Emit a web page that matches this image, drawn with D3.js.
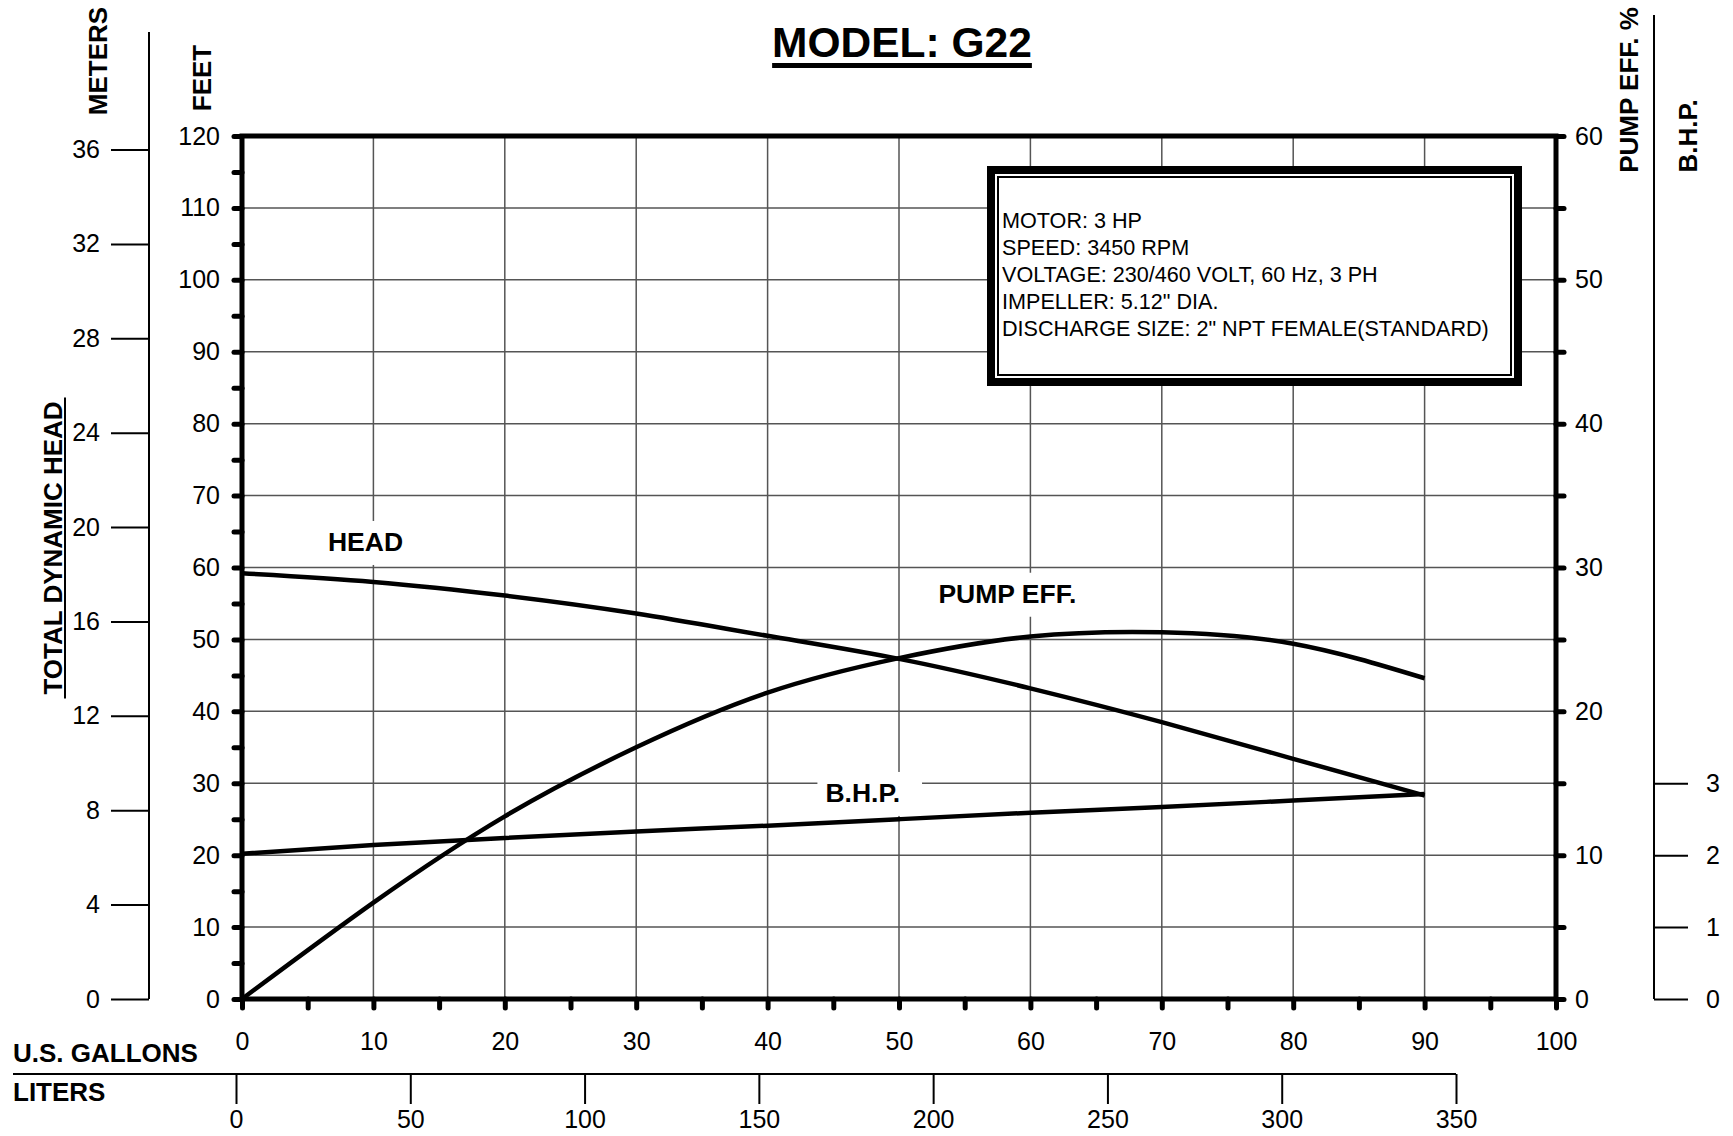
<!DOCTYPE html>
<html>
<head>
<meta charset="utf-8">
<script src="https://cdn.jsdelivr.net/npm/d3@7"></script>
<style>
  body { margin: 0; background: #fff; }
  text { font-family: "Liberation Sans", Arial, sans-serif; fill: #000; }
</style>
</head>
<body>
<script>
// curve readings, every 10 US gallons
var gallons  = [0, 10, 20, 30, 40, 50, 60, 70, 80, 90];
var headFeet = [59.2, 58.0, 56.1, 53.6, 50.5, 47.3, 43.2, 38.5, 33.4, 28.3];
var pumpEff  = [0, 6.7, 12.7, 17.5, 21.3, 23.7, 25.2, 25.5, 24.7, 22.3];
var bhp      = [2.02, 2.14, 2.24, 2.33, 2.41, 2.50, 2.59, 2.67, 2.76, 2.85];

// axis ticks
var feetTicks   = d3.range(0, 121, 5);
var meterTicks  = d3.range(0, 37, 4);
var effTicks    = d3.range(0, 61, 5);
var bhpTicks    = [0, 1, 2, 3];
var galTicks    = d3.range(0, 101, 5);
var literTicks  = d3.range(0, 351, 50);

var specs = [
  "MOTOR: 3 HP",
  "SPEED: 3450 RPM",
  "VOLTAGE: 230/460 VOLT, 60 Hz, 3 PH",
  "IMPELLER: 5.12\" DIA.",
  "DISCHARGE SIZE: 2\" NPT FEMALE(STANDARD)"
];

var width = 1733, height = 1136;
var pLeft = 242, pRight = 1556, pTop = 136, pBottom = 999;

var svg = d3.select("body").append("svg").attr("width", width).attr("height", height);

var x  = d3.scaleLinear().domain([0, 100]).range([pLeft, pRight]);
var xL = d3.scaleLinear().domain([0, 350]).range([236, 1456]);
var y  = d3.scaleLinear().domain([0, 120]).range([pBottom, pTop]);
var yM = d3.scaleLinear().domain([0, 120 / 3.28084]).range([pBottom, pTop]);
var yE = d3.scaleLinear().domain([0, 60]).range([pBottom, pTop]);
var yB = d3.scaleLinear().domain([0, 12]).range([pBottom, pTop]);

// grid
var grid = svg.append("g").attr("stroke", "#555").attr("stroke-width", 1.5);
grid.selectAll(".v").data(d3.range(10, 100, 10)).enter().append("line")
  .attr("x1", d => x(d)).attr("x2", d => x(d)).attr("y1", pTop).attr("y2", pBottom);
grid.selectAll(".h").data(d3.range(10, 120, 10)).enter().append("line")
  .attr("x1", pLeft).attr("x2", pRight).attr("y1", d => y(d)).attr("y2", d => y(d));

// spec box
var bx = 987, by = 166, bw = 535, bh = 220;
svg.append("rect").attr("x", bx + 4).attr("y", by + 4).attr("width", bw - 8).attr("height", bh - 8)
  .attr("fill", "#fff").attr("stroke", "#000").attr("stroke-width", 8);
svg.append("rect").attr("x", bx + 11).attr("y", by + 11).attr("width", bw - 22).attr("height", bh - 22)
  .attr("fill", "none").attr("stroke", "#000").attr("stroke-width", 2);
svg.append("g").selectAll("text").data(specs).enter().append("text")
  .attr("x", bx + 15).attr("y", (d, i) => 228 + i * 27)
  .attr("font-size", 21.6).text(d => d);

// curve labels, with white backing that breaks the grid
var labels = [
  {t: "HEAD", g: 9.4, f: 62.3, anchor: "middle"},
  {t: "PUMP EFF.", g: 53.0, f: 55.1, anchor: "start"},
  {t: "B.H.P.", g: 44.4, f: 27.4, anchor: "start"}
];
var lab = svg.append("g");
labels.forEach(function(l) {
  var bg = lab.append("rect").attr("fill", "#fff");
  var t = lab.append("text").attr("x", x(l.g)).attr("y", y(l.f))
    .attr("text-anchor", l.anchor).attr("font-size", 26.5).attr("font-weight", "bold").text(l.t);
  var b = t.node().getBBox();
  bg.attr("x", b.x - 8).attr("y", b.y - 6).attr("width", b.width + 30).attr("height", b.height + 14);
  t.raise();
});

// curves
var line = d3.line().curve(d3.curveNatural);
var curves = svg.append("g").attr("fill", "none").attr("stroke", "#000").attr("stroke-width", 4.5);
curves.append("path").attr("d", line(gallons.map((g, i) => [x(g), y(headFeet[i])])));
curves.append("path").attr("d", line(gallons.map((g, i) => [x(g), yE(pumpEff[i])])));
curves.append("path").attr("d", line(gallons.map((g, i) => [x(g), yB(bhp[i])])));

// frame
svg.append("rect").attr("x", pLeft).attr("y", pTop).attr("width", pRight - pLeft).attr("height", pBottom - pTop)
  .attr("fill", "none").attr("stroke", "#000").attr("stroke-width", 5);

function styleAxis(g, tickWidth) {
  g.select(".domain").remove();
  g.selectAll(".tick line").attr("stroke", "#000").attr("stroke-width", tickWidth).attr("stroke-linecap", "round");
  g.selectAll(".tick text").attr("font-size", 25);
  g.attr("font-family", null).attr("font-size", null);
}

// feet (left)
svg.append("g").attr("transform", "translate(" + pLeft + ",0)")
  .call(d3.axisLeft(y).tickValues(feetTicks).tickSize(8).tickPadding(14)
    .tickFormat(d => d % 10 === 0 ? d : ""))
  .call(g => styleAxis(g, 5));

// pump eff (right)
svg.append("g").attr("transform", "translate(" + pRight + ",0)")
  .call(d3.axisRight(yE).tickValues(effTicks).tickSize(8).tickPadding(11)
    .tickFormat(d => d % 10 === 0 ? d : ""))
  .call(g => styleAxis(g, 5));

// gallons (bottom)
svg.append("g").attr("transform", "translate(0," + pBottom + ")")
  .call(d3.axisBottom(x).tickValues(galTicks).tickSize(9).tickPadding(24)
    .tickFormat(d => d % 10 === 0 ? d : ""))
  .call(g => styleAxis(g, 5));

// meters
var mx = 149;
svg.append("line").attr("x1", mx).attr("x2", mx).attr("y1", 32).attr("y2", yM(0))
  .attr("stroke", "#000").attr("stroke-width", 2);
svg.append("g").attr("transform", "translate(" + mx + ",0)")
  .call(d3.axisLeft(yM).tickValues(meterTicks).tickSize(38).tickPadding(11))
  .call(g => styleAxis(g, 2))
  .call(g => g.selectAll(".tick line").attr("stroke-linecap", "butt"));

// bhp
var hx = 1654;
svg.append("line").attr("x1", hx).attr("x2", hx).attr("y1", 15).attr("y2", yB(0))
  .attr("stroke", "#000").attr("stroke-width", 2);
svg.append("g").attr("transform", "translate(" + hx + ",0)")
  .call(d3.axisRight(yB).tickValues(bhpTicks).tickSize(34).tickPadding(18))
  .call(g => styleAxis(g, 2))
  .call(g => g.selectAll(".tick line").attr("stroke-linecap", "butt"));

// liters
var ly = 1074;
svg.append("line").attr("x1", 13).attr("x2", xL(350)).attr("y1", ly).attr("y2", ly)
  .attr("stroke", "#000").attr("stroke-width", 2);
svg.append("g").attr("transform", "translate(0," + ly + ")")
  .call(d3.axisBottom(xL).tickValues(literTicks).tickSize(30).tickPadding(6))
  .call(g => styleAxis(g, 2))
  .call(g => g.selectAll(".tick line").attr("stroke-linecap", "butt"));

// titles
var title = svg.append("text").attr("x", 902).attr("y", 57).attr("text-anchor", "middle")
  .attr("font-size", 42.5).attr("font-weight", "bold").text("MODEL: G22");
var tb = title.node().getBBox();
svg.append("rect").attr("x", tb.x).attr("y", 63).attr("width", tb.width).attr("height", 5).attr("fill", "#000");

svg.append("text").attr("x", 13).attr("y", 1062).attr("font-size", 26).attr("font-weight", "bold").text("U.S. GALLONS");
svg.append("text").attr("x", 13).attr("y", 1101).attr("font-size", 26).attr("font-weight", "bold").text("LITERS");

var vtitles = [
  {t: "METERS", x: 107, y: 61},
  {t: "FEET", x: 211, y: 78},
  {t: "TOTAL DYNAMIC HEAD", x: 62, y: 548},
  {t: "PUMP EFF. %", x: 1638, y: 90},
  {t: "B.H.P.", x: 1697, y: 136}
];
vtitles.forEach(function(v) {
  var t = svg.append("text").attr("transform", "translate(" + v.x + "," + v.y + ") rotate(-90)")
    .attr("text-anchor", "middle").attr("font-size", 26).attr("font-weight", "bold").text(v.t);
  if (v.t === "TOTAL DYNAMIC HEAD") {
    var w = t.node().getComputedTextLength();
    svg.append("line").attr("x1", v.x + 3).attr("x2", v.x + 3)
      .attr("y1", v.y - w / 2 - 4).attr("y2", v.y + w / 2 + 4)
      .attr("stroke", "#000").attr("stroke-width", 2);
  }
});
</script>
</body>
</html>
